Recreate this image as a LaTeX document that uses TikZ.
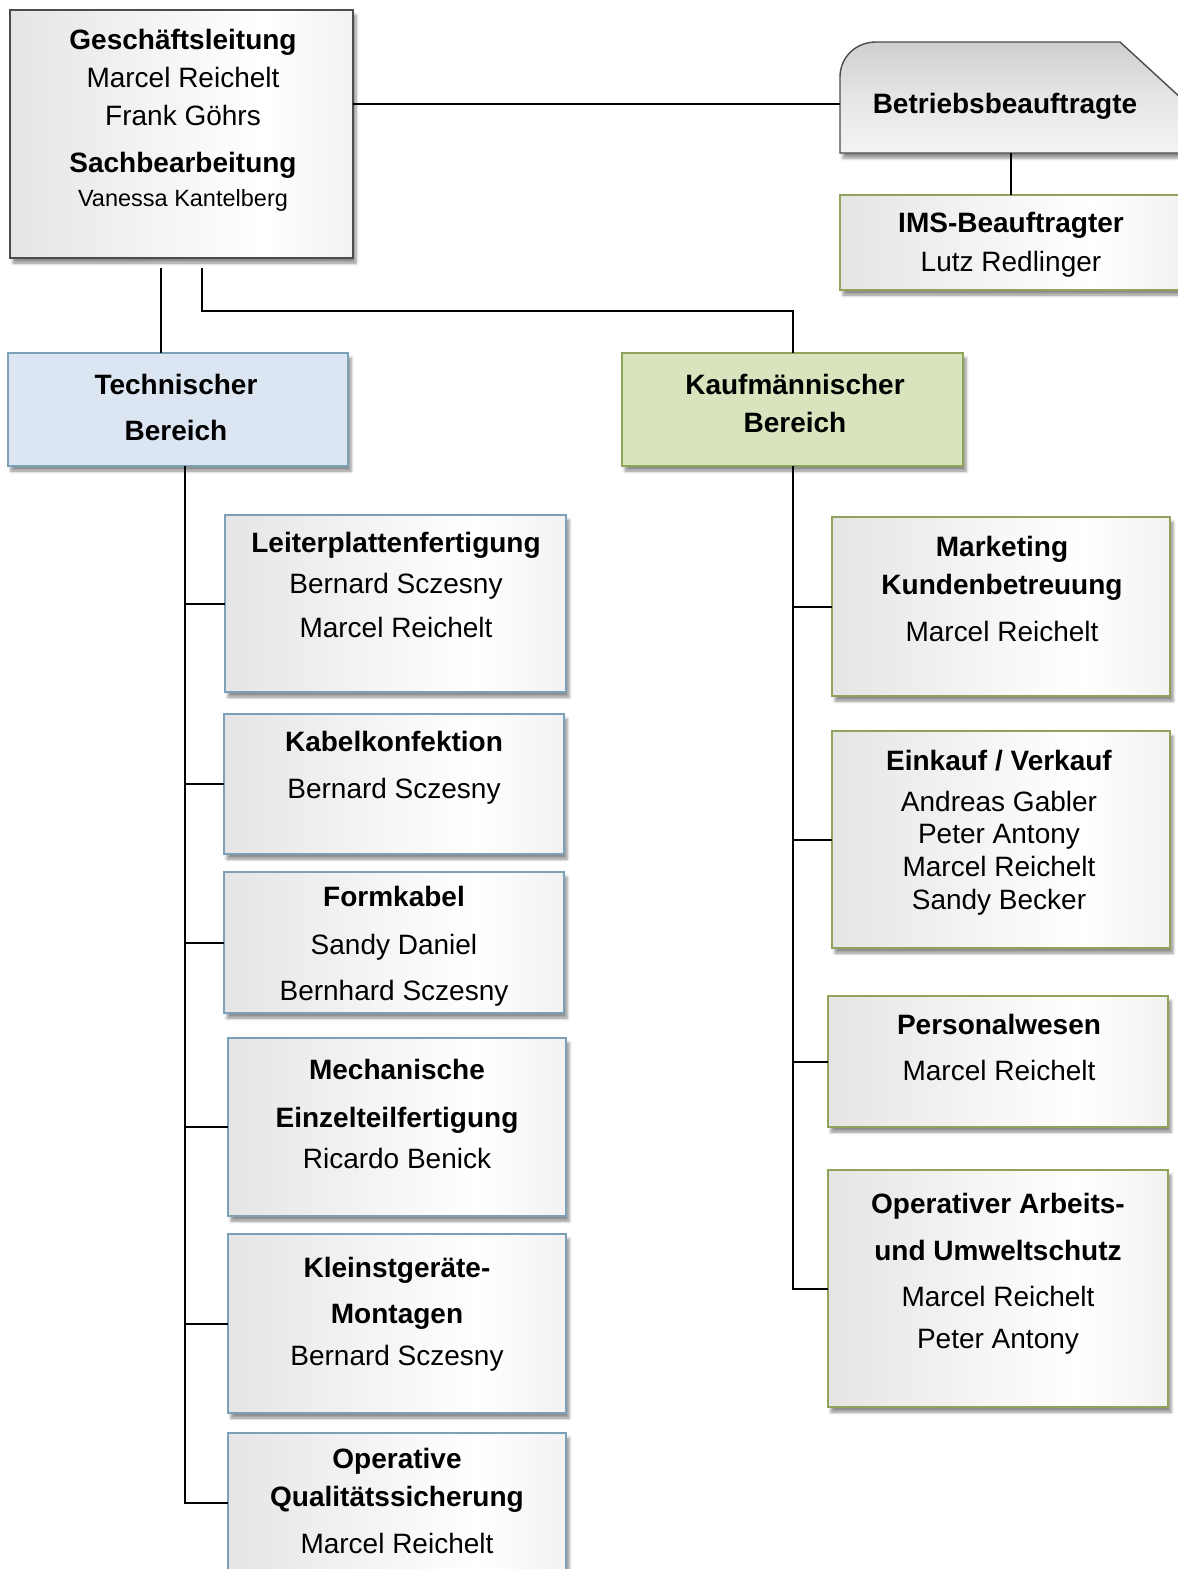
\documentclass[tikz,border=0pt]{standalone}
\usepackage{fontspec}
\setmainfont{Liberation Sans}
\usepackage{xcolor}
\usetikzlibrary{shadows,shadows.blur}
\definecolor{boxSide}{gray}{0.83}
\definecolor{boxSideR}{gray}{0.85}
\definecolor{techFill}{HTML}{DCE6F2}
\definecolor{techBorder}{HTML}{7BA0B8}
\definecolor{kaufFill}{HTML}{D7E4BD}
\definecolor{kaufBorder}{HTML}{8FA35A}
\definecolor{headBorder}{gray}{0.3}
\pgfdeclarehorizontalshading{boxGrad}{100bp}{color(0bp)=(boxSide); color(62bp)=(white); color(100bp)=(boxSideR)}
\pgfdeclareverticalshading{betrGrad}{100bp}{color(0bp)=(boxSideR); color(18bp)=(gray!6); color(50bp)=(gray!20); color(100bp)=(gray!55)}
\tikzset{
  every box/.style={inner sep=0pt, outer sep=0pt, anchor=north west, line width=1.4pt,
    blur shadow={shadow xshift=3pt, shadow yshift=-5pt, shadow blur radius=3pt, shadow opacity=45}},
  box text/.style={inner sep=0pt, anchor=north, align=center, font=\fontsize{28}{38}\selectfont},
}

\begin{document}
\begin{tikzpicture}[
  x=1pt, y=-1pt,
  grey box/.style={every box, draw=headBorder, shade, shading=boxGrad},
  tech box/.style={every box, draw=techBorder, shade, shading=boxGrad},
  kauf box/.style={every box, draw=kaufBorder, shade, shading=boxGrad},
  link/.style={draw=black, line width=2pt},
]
\useasboundingbox (0,0) rectangle (1178,1569);
\clip (0,0) rectangle (1178,1569);

% Kopf
\node[grey box, minimum width=343, minimum height=248] (gl) at (10,10) {};
\node[box text] (glText) at (183,29) {\textbf{Geschäftsleitung}\\Marcel Reichelt\\Frank Göhrs\\[9pt]
  \textbf{Sachbearbeitung}\\[-3.5pt]{\fontsize{23.5}{38}\selectfont Vanessa Kantelberg}};

\path[draw=headBorder, line width=1.4pt, shade, shading=betrGrad,
  blur shadow={shadow xshift=3pt, shadow yshift=-5pt, shadow blur radius=3pt, shadow opacity=45}]
  (840,153) -- (840,77) .. controls (840,57) and (856,42) .. (876,42) -- (1120,42) -- (1182,99) -- (1182,153) -- cycle;
\node[box text] (betr) at (1005,93) {\textbf{Betriebsbeauftragte}};
\coordinate (betrIn) at (840,104);
\coordinate (betrOut) at (1011,153);

\node[kauf box, minimum width=342, minimum height=95] (ims) at (840,195) {};
\node[box text] (imsText) at (1011,212) {\textbf{IMS-Beauftragter}\\[1pt]Lutz Redlinger};

% Bereiche
\node[every box, draw=techBorder, fill=techFill, minimum width=340, minimum height=113] (tech) at (8,353) {};
\node[box text] (techText) at (176,374) {\textbf{Technischer}\\[8pt]\textbf{Bereich}};
\node[every box, draw=kaufBorder, fill=kaufFill, minimum width=341, minimum height=113] (kauf) at (622,353) {};
\node[box text] (kaufText) at (795,374) {\textbf{Kaufmännischer}\\\textbf{Bereich}};

% technischer Bereich
\node[tech box, minimum width=341, minimum height=177] (leiter) at (225,515) {};
\node[box text] (leiterText) at (396,532) {\textbf{Leiterplattenfertigung}\\[3pt]Bernard Sczesny\\[6pt]Marcel Reichelt};
\node[tech box, minimum width=340, minimum height=140] (kabel) at (224,714) {};
\node[box text] (kabelText) at (394,731) {\textbf{Kabelkonfektion}\\[9pt]Bernard Sczesny};
\node[tech box, minimum width=340, minimum height=141] (form) at (224,872) {};
\node[box text] (formText) at (394,886) {\textbf{Formkabel}\\[10pt]Sandy Daniel\\[8pt]Bernhard Sczesny};
\node[tech box, minimum width=338, minimum height=178] (mech) at (228,1038) {};
\node[box text] (mechText) at (397,1059) {\textbf{Mechanische}\\[10pt]\textbf{Einzelteilfertigung}\\[3pt]Ricardo Benick};
\node[tech box, minimum width=338, minimum height=179] (klein) at (228,1234) {};
\node[box text] (kleinText) at (397,1257) {\textbf{Kleinstgeräte-}\\[8pt]\textbf{Montagen}\\[4pt]Bernard Sczesny};
\node[tech box, minimum width=338, minimum height=140] (qs) at (228,1433) {};
\node[box text] (qsText) at (397,1448) {\textbf{Operative}\\\textbf{Qualitätssicherung}\\[9pt]Marcel Reichelt};

% kaufmaennischer Bereich
\node[kauf box, minimum width=338, minimum height=179] (mark) at (832,517) {};
\node[box text] (markText) at (1002,536) {\textbf{Marketing}\\\textbf{Kundenbetreuung}\\[9pt]Marcel Reichelt};
\node[kauf box, minimum width=338, minimum height=217] (eink) at (832,731) {};
\node[box text] (einkText) at (999,750) {\textbf{Einkauf / Verkauf}\\[3pt]Andreas Gabler\\[-6pt]Peter Antony\\[-5pt]Marcel Reichelt\\[-5pt]Sandy Becker};
\node[kauf box, minimum width=340, minimum height=131] (pers) at (828,996) {};
\node[box text] (persText) at (999,1014) {\textbf{Personalwesen}\\[8pt]Marcel Reichelt};
\node[kauf box, minimum width=340, minimum height=237] (arb) at (828,1170) {};
\node[box text] (arbText) at (998,1193) {\textbf{Operativer Arbeits-}\\[9pt]\textbf{und Umweltschutz}\\[8pt]Marcel Reichelt\\[4pt]Peter Antony};

% Verbindungen
\coordinate (glDown) at (161,268);
\coordinate (glSide) at (202,268);
\coordinate (techTrunk) at (185,466);
\draw[link] (gl.east |- betrIn) -- (betrIn);
\draw[link] (betrOut) -- (ims.north);
\draw[link] (glDown) -- (glDown |- tech.north);
\draw[link] (glSide) -- ++(0,43) -| (kauf.north);
\foreach \b in {leiter,kabel,form,mech,klein,qs}
  \draw[link] (techTrunk) |- (\b.west);
\foreach \b in {mark,eink,pers,arb}
  \draw[link] (kauf.south) |- (\b.west);
\end{tikzpicture}
\end{document}
